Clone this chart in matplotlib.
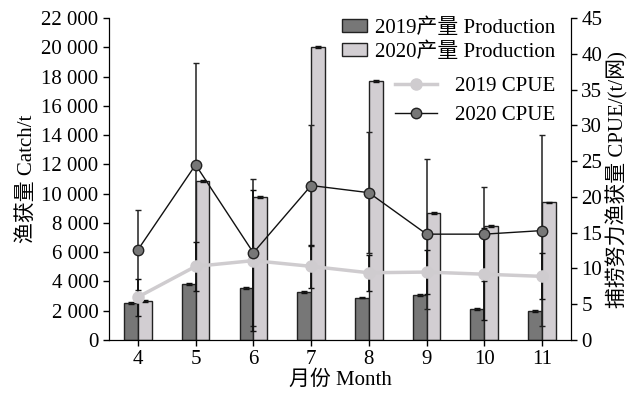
import numpy as np
import matplotlib
matplotlib.use("Agg")
import matplotlib.pyplot as plt
from matplotlib.ticker import FuncFormatter, MultipleLocator

plt.rcParams['font.family'] = ['Liberation Serif', 'Noto Sans CJK SC']
plt.rcParams['font.size'] = 15
plt.rcParams['axes.unicode_minus'] = False

# 月份
months = np.array([4, 5, 6, 7, 8, 9, 10, 11])
# 产量 (t)
prod_2019 = [2550, 3850, 3550, 3300, 2900, 3100, 2100, 2000]
prod_2020 = [2650, 10850, 9800, 20050, 17700, 8700, 7800, 9400]
# CPUE (t/网) 及标准差
cpue_2019 = [6.0, 10.3, 11.1, 10.3, 9.4, 9.5, 9.2, 8.9]
cpue_2019_sd = [2.6, 3.4, 9.9, 3.0, 2.5, 3.1, 6.4, 3.2]
cpue_2020 = [12.6, 24.5, 12.2, 21.6, 20.6, 14.8, 14.8, 15.3]
cpue_2020_sd = [5.6, 14.2, 10.3, 8.5, 8.5, 10.5, 6.6, 13.3]

w = 0.24
fig = plt.figure(figsize=(6.43, 3.94), dpi=100)
ax1 = fig.add_axes([0.1695, 0.137, 0.7185, 0.817])

ax1.bar(months - w, prod_2019, w, align='edge', color='#777777',
        edgecolor='#222222', linewidth=1, label='2019产量 Production', zorder=2)
ax1.bar(months, prod_2020, w, align='edge', color='#d2ced2',
        edgecolor='#222222', linewidth=1, label='2020产量 Production', zorder=2)
# 柱顶误差线
ax1.errorbar(months - w / 2, prod_2019, yerr=60, fmt='none', ecolor='#111111',
             elinewidth=1, capsize=2.5, zorder=3)
ax1.errorbar(months + w / 2, prod_2020, yerr=60, fmt='none', ecolor='#111111',
             elinewidth=1, capsize=2.5, zorder=3)

ax1.set_xlim(3.5, 11.5)
ax1.set_ylim(0, 22000)
ax1.yaxis.set_major_locator(MultipleLocator(2000))
ax1.yaxis.set_major_formatter(FuncFormatter(lambda v, p: f"{int(v):,}".replace(",", " ")))
ax1.set_xticks(months)
ax1.set_xlabel('月份 Month', labelpad=1)
ax1.set_ylabel('渔获量 Catch/t', labelpad=3)
ax1.spines['top'].set_visible(False)
ax1.tick_params(direction='out', length=4, width=1)

ax2 = ax1.twinx()
ax2.errorbar(months, cpue_2020, yerr=cpue_2020_sd, fmt='none', ecolor='#222222',
             elinewidth=1.1, capsize=2.2, capthick=1, zorder=2)
ax2.errorbar(months, cpue_2019, yerr=cpue_2019_sd, fmt='none', ecolor='#111111',
             elinewidth=1.3, capsize=2.2, capthick=1, zorder=2)
ax2.plot(months, cpue_2019, color='#cfcccf', linewidth=2.5, marker='o',
         markersize=8, markerfacecolor='#cfcccf', markeredgecolor='#cfcccf',
         label='2019 CPUE', zorder=3)
ax2.plot(months, cpue_2020, color='#111111', linewidth=1, marker='o',
         markersize=7.5, markerfacecolor='#777777', markeredgecolor='#222222',
         label='2020 CPUE', zorder=4)
ax2.set_ylim(0, 45)
ax2.yaxis.set_major_locator(MultipleLocator(5))
ax2.set_ylabel('捕捞努力渔获量 CPUE/(t/网)', labelpad=3)
ax2.spines['top'].set_visible(False)
ax2.tick_params(direction='out', length=4, width=1)

ax1.legend(loc='upper right', bbox_to_anchor=(0.985, 1.025), frameon=False,
           handlelength=1.2, handleheight=0.55, handletextpad=0.4,
           labelspacing=0.2, borderaxespad=0)
ax2.legend(loc='upper right', bbox_to_anchor=(0.985, 0.845), frameon=False,
           handlelength=2.0, handletextpad=0.9, labelspacing=0.45,
           borderaxespad=0)

fig.savefig('out.png', dpi=100)
